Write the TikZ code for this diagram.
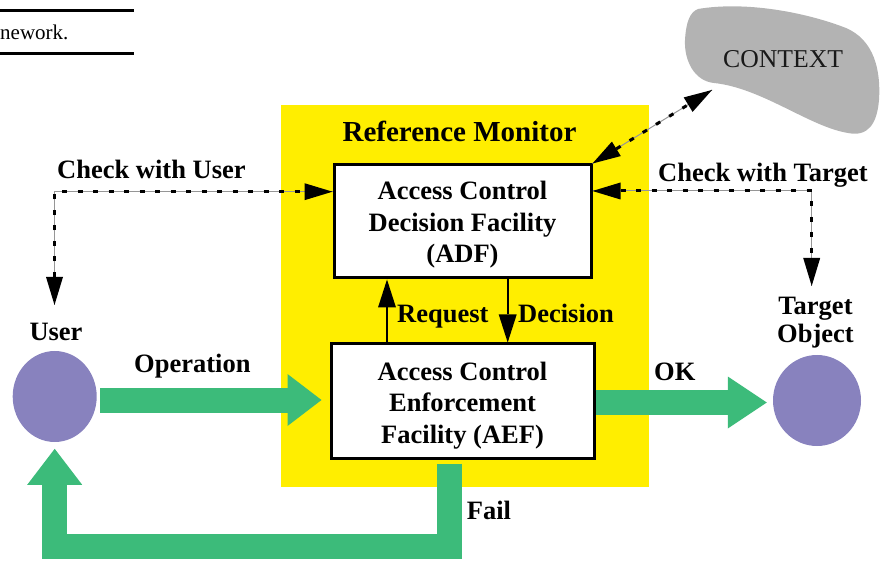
\documentclass[tikz,border=0pt]{standalone}
\usepackage{fontspec}
\setmainfont{Liberation Serif}
\usetikzlibrary{arrows.meta,shapes.geometric}

\definecolor{rmyellow}{RGB}{255,238,0}
\definecolor{flowgreen}{RGB}{60,187,122}
\definecolor{objpurple}{RGB}{136,130,190}
\definecolor{cloudgray}{RGB}{179,179,179}
\definecolor{dashgray}{RGB}{150,150,150}

\tikzset{
  txt/.style={inner sep=0pt, font=\bfseries\fontsize{26.5}{31.5}\selectfont},
  lbl/.style={txt, anchor=base west},
  facility/.style={draw, line width=3pt, fill=white, inner sep=0pt},
  boxtext/.style={txt, align=center},
  object/.style={ellipse, fill=objpurple, inner sep=0pt},
  ctrltip/.style={-{Triangle[length=28pt,width=18pt,line width=0pt]}},
  ctrl/.style={line width=1.6pt, ctrltip},
  flow/.style={draw=flowgreen, line width=25pt, line join=miter,
    -{Triangle[length=#1,width=52pt,line width=0pt]}},
  flow/.default=36pt,
  dashlink/.style={line width=3pt, dash pattern=on 5pt off 10.5pt,
    {Triangle[length=28pt,width=17pt,line width=0pt]}-{Triangle[length=28pt,width=17pt,line width=0pt]},
    preaction={draw=dashgray, line width=1pt, solid, arrows=-}},
}

\begin{document}
\begin{tikzpicture}[x=1pt,y=-1pt]
\useasboundingbox (0,0) rectangle (881,561);

% caption rules and text fragment at the top left
\draw[line width=3pt] (0,11) -- (134,11);
\draw[line width=3pt] (0,54) -- (134,54);
\node[inner sep=0pt, anchor=base west, font=\fontsize{21}{25}\selectfont] (captxt) at (0,39.3) {nework.};

% context cloud
\fill[cloudgray] (698,9) .. controls (745,1) and (805,12) .. (846,28)
  .. controls (874,40) and (881,70) .. (879,100)
  .. controls (877,124) and (868,137) .. (848,133)
  .. controls (810,127) and (762,88) .. (714,83)
  .. controls (694,81) and (684,60) .. (685,40)
  .. controls (686,22) and (690,12) .. (698,9) -- cycle;
\node[inner sep=0pt, anchor=base west, text=black!90, font=\fontsize{25.7}{30}\selectfont] (ctx) at (723,68) {CONTEXT};
\coordinate (ctxtip) at (712,90);

% reference monitor
\node[fill=rmyellow, minimum width=368pt, minimum height=382pt, inner sep=0pt] (rm) at (465,296) {};
\node[inner sep=0pt, anchor=base, font=\bfseries\fontsize{29}{34}\selectfont] (rmtitle) at (459.5,141.7) {Reference Monitor};

% facilities
\node[facility, minimum width=257pt, minimum height=113pt] (adf) at (462.5,221.5) {};
\node[boxtext] (adftext) at (462.5,225) {Access Control\\Decision Facility\\(ADF)};
\node[facility, minimum width=263pt, minimum height=114pt] (aef) at (462.5,401) {};
\node[boxtext] (aeftext) at (462.5,405.4) {Access Control\\Enforcement\\Facility (AEF)};

% request / decision
\coordinate (reqx) at (387,0);
\coordinate (decx) at (507.7,0);
\draw[ctrl] (reqx |- aef.north) -- (reqx |- adf.south);
\draw[ctrl] (decx |- adf.south) -- (decx |- aef.north);
\node[lbl] (reqlbl) at (397,323) {Request};
\node[lbl] (declbl) at (518,323) {Decision};

% user and target object
\node[object, minimum width=84pt, minimum height=91pt] (user) at (54.7,396.5) {};
\node[object, minimum width=88pt, minimum height=91pt] (target) at (817,400.5) {};
\node[txt, anchor=base] (userlbl) at (56,340.7) {User};
\node[txt, align=center, font=\bfseries\fontsize{26.5}{28}\selectfont] (tgtlbl) at (815.5,323) {Target\\Object};

% checks with user and target
\coordinate (userchk) at (54.5,305);
\coordinate (tgtchk) at (811.7,286);
\coordinate (chkuy) at (0,191.7);
\coordinate (chkty) at (0,191);
\draw[dashlink] (userchk) |- (adf.west |- chkuy);
\draw[dashlink] (adf.east |- chkty) -| (tgtchk);
\draw[dashlink] (adf.north east) -- (ctxtip);
\node[lbl] (chkulbl) at (57,178.3) {Check with User};
\node[lbl] (chktlbl) at (658,181.7) {Check with Target};

% operation flow
\path (user.east) ++(3.5,3.5) coordinate (opA);
\path (aef.west |- opA) ++(-8,0) coordinate (opB);
\draw[flow=34pt] (opA) -- (opB);
\node[lbl] (oplbl) at (134,372.7) {Operation};

% granted flow
\path (aef.east) ++(0,1.5) coordinate (okA);
\path (target.west |- okA) ++(-6,0) coordinate (okB);
\draw[flow=39pt] (okA) -- (okB);
\node[lbl] (oklbl) at (654,381) {OK};

% denied flow back to the user
\path (aef.south) ++(-13,4) coordinate (failA);
\coordinate (faily) at (0,546.5);
\path (user.south) ++(0,6.6) coordinate (failB);
\draw[draw=flowgreen, line width=25pt, line join=miter,
  -{Triangle[length=36pt,width=55pt,line width=0pt]}]
  (failA) -- (failA |- faily) -| (failB);
\node[lbl] (faillbl) at (466.7,519.3) {Fail};
\end{tikzpicture}
\end{document}
